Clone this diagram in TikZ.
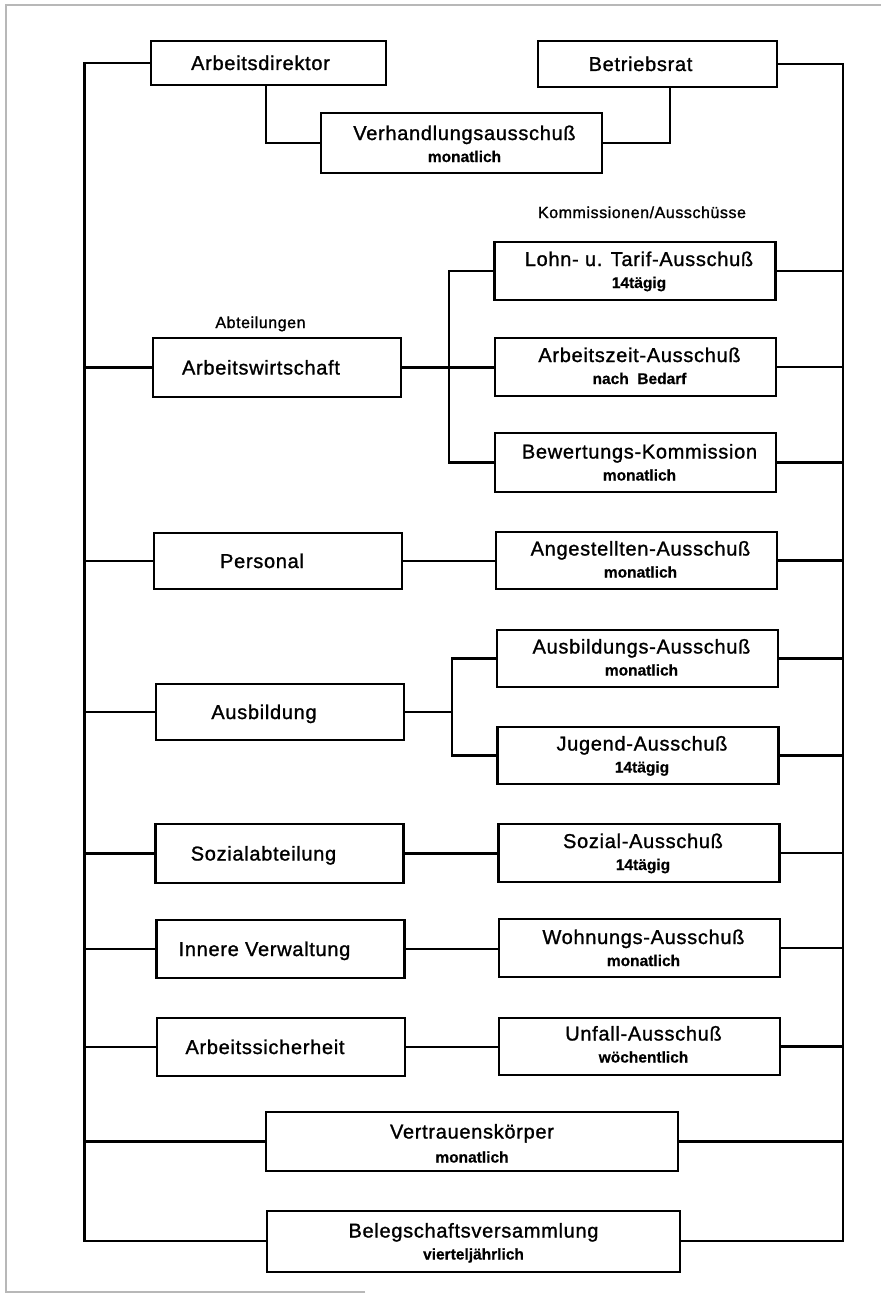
\documentclass[tikz,border=0pt]{standalone}
\usepackage{fontspec}
\usetikzlibrary{calc}
\newfontfamily\lsMain[LetterSpace=3.5,FakeBold=1.2]{Liberation Sans}
\newfontfamily\lsSub[FakeBold=0.6]{Liberation Sans}
\newcommand\myMain{\lsMain\fontsize{20}{22}\selectfont}
\newcommand\mySub{\lsSub\bfseries\fontsize{15.5}{17}\selectfont}
\newcommand\myLabel{\lsMain\fontsize{16}{18}\selectfont}
\begin{document}
\begin{tikzpicture}[x=1pt,y=-1pt,
  bx/.style={draw, line width=2.4pt, inner sep=0pt, minimum height=58pt},
  lbx/.style={bx, minimum width=248pt},
  rbx/.style={bx, minimum width=281pt},
  ln/.style={line width=2.4pt},
  mt/.style={anchor=base, inner sep=0pt, font=\myMain},
  st/.style={anchor=base, inner sep=0pt, font=\mySub},
  lt/.style={anchor=base, inner sep=0pt, font=\myLabel},
  frame/.style={line width=1.5pt, draw=black!28}
]
\useasboundingbox (0,0) rectangle (881,1303);
\fill[white] (0,0) rectangle (881,1303);
\draw[frame] (365,1292) -- (6,1292) -- (6,5) -- (881,5);

% trunk end points
\coordinate (LB) at (84.5,1241);
\coordinate (RB) at (843,1241);
\coordinate (BA) at (449,0);
\coordinate (BB) at (452,0);

% top
\node[bx, minimum width=235pt, minimum height=44pt] (ad) at (268.5,63) {};
\node[mt] (adT) at ($(ad.center)+(-8,7)$) {Arbeitsdirektor};
\node[bx, minimum width=239pt, minimum height=46pt] (br) at (657.5,64) {};
\node[mt] (brT) at ($(br.center)+(-17,7)$) {Betriebsrat};
\node[bx, minimum width=281pt, minimum height=60pt] (va) at (461.5,143) {};
\node[mt] (vaT1) at ($(va.center)+(3,-3)$) {Verhandlungsausschuß};
\node[st] (vaT2) at ($(va.center)+(3,19)$) {monatlich};

% labels
\node[lt] (lblK) at (642,218) {Kommissionen/Ausschüsse};
\node[lt] (lblA) at (260.5,328) {Abteilungen};

% left column
\node[lbx, minimum height=59pt] (aw) at (277,367.5) {};
\node[mt] (awT) at ($(aw.center)+(-16,7)$) {Arbeitswirtschaft};
\node[lbx, minimum height=56pt] (pers) at (278,561) {};
\node[mt] (persT) at ($(pers.center)+(-16,7)$) {Personal};
\node[lbx, minimum height=56pt] (ausb) at (280,712) {};
\node[mt] (ausbT) at ($(ausb.center)+(-16,7)$) {Ausbildung};
\node[lbx, minimum height=59pt] (soz) at (279.5,853.5) {};
\node[mt] (sozT) at ($(soz.center)+(-16,7)$) {Sozialabteilung};
\node[lbx] (inn) at (280.5,949) {};
\node[mt] (innT) at ($(inn.center)+(-16,7)$) {Innere Verwaltung};
\node[lbx] (asi) at (281,1047) {};
\node[mt] (asiT) at ($(asi.center)+(-16,7)$) {Arbeitssicherheit};

% right column
\node[rbx] (lohn) at (635,271) {};
\node[mt] (lohnT1) at ($(lohn.center)+(4,-5)$) {Lohn- u. Tarif-Ausschuß};
\node[st] (lohnT2) at ($(lohn.center)+(4,17)$) {14tägig};
\node[rbx] (az) at (635.5,367) {};
\node[mt] (azT1) at ($(az.center)+(4,-5)$) {Arbeitszeit-Ausschuß};
\node[st] (azT2) at ($(az.center)+(4,17)$) {nach\ \ Bedarf};
\node[rbx, minimum height=59pt] (bew) at (635.5,462.5) {};
\node[mt] (bewT1) at ($(bew.center)+(4,-4)$) {Bewertungs-Kommission};
\node[st] (bewT2) at ($(bew.center)+(4,18)$) {monatlich};
\node[rbx, minimum height=57pt] (ang) at (636.5,560.5) {};
\node[mt] (angT1) at ($(ang.center)+(4,-5)$) {Angestellten-Ausschuß};
\node[st] (angT2) at ($(ang.center)+(4,17)$) {monatlich};
\node[rbx, minimum height=57pt] (ausbA) at (637.5,658.5) {};
\node[mt] (ausbAT1) at ($(ausbA.center)+(4,-5)$) {Ausbildungs-Ausschuß};
\node[st] (ausbAT2) at ($(ausbA.center)+(4,17)$) {monatlich};
\node[rbx, minimum height=57pt] (jug) at (638,755.5) {};
\node[mt] (jugT1) at ($(jug.center)+(4,-5)$) {Jugend-Ausschuß};
\node[st] (jugT2) at ($(jug.center)+(4,17)$) {14tägig};
\node[rbx] (sozA) at (639,853) {};
\node[mt] (sozAT1) at ($(sozA.center)+(4,-5)$) {Sozial-Ausschuß};
\node[st] (sozAT2) at ($(sozA.center)+(4,17)$) {14tägig};
\node[rbx] (wohn) at (639.5,948) {};
\node[mt] (wohnT1) at ($(wohn.center)+(4,-4)$) {Wohnungs-Ausschuß};
\node[st] (wohnT2) at ($(wohn.center)+(4,18)$) {monatlich};
\node[rbx, minimum height=57pt] (unf) at (639.5,1046.5) {};
\node[mt] (unfT1) at ($(unf.center)+(4,-6)$) {Unfall-Ausschuß};
\node[st] (unfT2) at ($(unf.center)+(4,16)$) {wöchentlich};

% bottom
\node[bx, minimum width=412pt, minimum height=59pt] (vk) at (472,1141.5) {};
\node[mt] (vkT1) at ($(vk.center)+(0,-3)$) {Vertrauenskörper};
\node[st] (vkT2) at ($(vk.center)+(0,21)$) {monatlich};
\node[bx, minimum width=413pt, minimum height=61pt] (bv) at (473.5,1241.5) {};
\node[mt] (bvT1) at ($(bv.center)+(0,-4)$) {Belegschaftsversammlung};
\node[st] (bvT2) at ($(bv.center)+(0,18)$) {vierteljährlich};

% top connectors
\draw[ln] ([xshift=-2.5pt]ad.south) |- (va.west);
\draw[ln] ([xshift=12.5pt]br.south) |- (va.east);

% trunks
\draw[ln] (ad.west) -| (LB) -- (LB -| bv.west);
\draw[ln] (br.east) -| (RB) -- (RB -| bv.east);

% left branches
\foreach \n in {aw,pers,ausb,soz,inn,asi,vk}
  \draw[ln] (\n.west) -- (\n.west -| LB);
% right branches
\foreach \n in {lohn,az,bew,ang,ausbA,jug,sozA,wohn,unf,vk}
  \draw[ln] (\n.east) -- (\n.east -| RB);

% Arbeitswirtschaft bracket
\draw[ln] (lohn.west) -| (BA |- bew.west) -- (bew.west);
\draw[ln] (aw.east) -- (aw.east -| az.west);
% Ausbildung bracket
\draw[ln] (ausbA.west) -| (BB |- jug.west) -- (jug.west);
\draw[ln] (ausb.east) -- (ausb.east -| BB);
% direct pairs
\draw[ln] (pers.east) -- (pers.east -| ang.west);
\draw[ln] (soz.east) -- (soz.east -| sozA.west);
\draw[ln] (inn.east) -- (inn.east -| wohn.west);
\draw[ln] (asi.east) -- (asi.east -| unf.west);
\end{tikzpicture}
\end{document}
